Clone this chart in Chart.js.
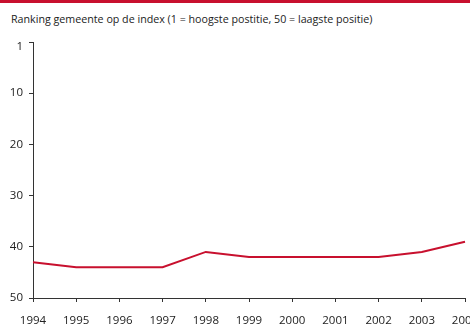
<!DOCTYPE html>
<html>
<head>
<meta charset="utf-8">
<script src="https://cdn.jsdelivr.net/npm/chart.js@4/dist/chart.umd.min.js"></script>
<style>
  html, body { margin: 0; padding: 0; background: #fff; overflow: hidden; width: 470px; height: 325px; }
  #bar { position: absolute; left: 0; top: 0; width: 470px; height: 3px; background: #c8102e; }
  #title { position: absolute; left: 11px; top: 12px; font: 10.7px "Open Sans", sans-serif; color: #222; white-space: nowrap; }
  #wrap { position: absolute; left: 0; top: 0; width: 500px; height: 340px; }
</style>
</head>
<body>
<div id="bar"></div>
<div id="title">Ranking gemeente op de index (1 = hoogste postitie, 50 = laagste positie)</div>
<div id="wrap"><canvas id="c" width="500" height="340"></canvas></div>
<script>
// Years on the horizontal axis
const years = ['1994','1995','1996','1997','1998','1999','2000','2001','2002','2003','2004'];
// Ranking of the municipality per year (1 = best, 50 = worst)
const ranking = [43, 44, 44, 44, 41, 42, 42, 42, 42, 41, 39];
// Tick values on the ranking axis; the top mark is labelled "1"
const rankTicks = [0, 1, 10, 20, 30, 40, 50];

const axisColor = '#333';
const tickFont = { family: 'Open Sans', size: 11.5 };

new Chart(document.getElementById('c'), {
  type: 'line',
  data: {
    labels: years,
    datasets: [{
      data: ranking,
      borderColor: '#c8102e',
      borderWidth: 2,
      pointRadius: 0,
      tension: 0,
      fill: false
    }]
  },
  options: {
    responsive: false,
    animation: false,
    layout: { padding: { top: 42, right: 35, left: 0, bottom: 0 } },
    plugins: { legend: { display: false }, tooltip: { enabled: false } },
    scales: {
      x: {
        offset: false,
        border: { color: axisColor, width: 1 },
        grid: { drawOnChartArea: false, drawTicks: true, tickLength: 4, tickColor: axisColor },
        ticks: { color: '#222', font: tickFont, padding: 12, maxRotation: 0, autoSkip: false },
        afterFit: s => { s.height = 42; }
      },
      y: {
        min: 0,
        max: 50,
        reverse: true,
        border: { color: axisColor, width: 1 },
        grid: {
          drawOnChartArea: false, drawTicks: true, tickLength: 4,
          tickColor: ctx => (ctx.tick && ctx.tick.value === 1) ? 'rgba(0,0,0,0)' : axisColor
        },
        ticks: {
          color: '#222', font: tickFont, padding: 6,
          callback: v => v === 0 ? '' : String(v)
        },
        afterBuildTicks: s => { s.ticks = rankTicks.map(v => ({ value: v })); },
        afterFit: s => { s.width = 33; }
      }
    }
  }
});
</script>
</body>
</html>
